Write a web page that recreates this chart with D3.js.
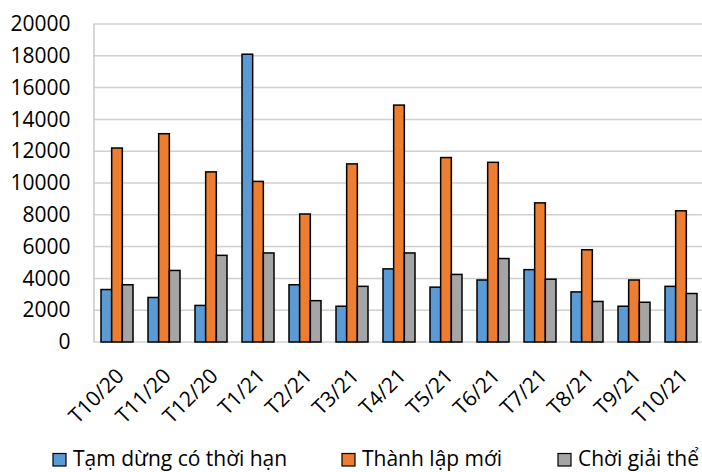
<!DOCTYPE html>
<html>
<head>
<meta charset="utf-8">
<script src="https://cdn.jsdelivr.net/npm/d3@7"></script>
<style>
  body { margin: 0; background: #fff; }
  text { font-family: "Open Sans", sans-serif; fill: #000; }
</style>
</head>
<body>
<script>
var months = ["T10/20", "T11/20", "T12/20", "T1/21", "T2/21", "T3/21", "T4/21",
              "T5/21", "T6/21", "T7/21", "T8/21", "T9/21", "T10/21"];
var tamDung = [3300, 2800, 2300, 18100, 3600, 2250, 4600, 3450, 3900, 4550, 3150, 2250, 3500];
var thanhLap = [12200, 13100, 10700, 10100, 8050, 11200, 14900, 11600, 11300, 8750, 5800, 3900, 8250];
var choGiaiThe = [3600, 4500, 5450, 5600, 2600, 3500, 5600, 4250, 5250, 3950, 2550, 2500, 3050];
var seriesNames = ["Tạm dừng có thời hạn", "Thành lập mới", "Chời giải thể"];
var colors = ["#5b9bd5", "#ed7d31", "#a5a5a5"];
var yTicks = [0, 2000, 4000, 6000, 8000, 10000, 12000, 14000, 16000, 18000, 20000];

var margin = {top: 24, left: 93.5},
    width = 611,
    height = 318;

var svg = d3.select("body").append("svg")
    .attr("width", 702)
    .attr("height", 472);

var main = svg.append("g")
    .attr("transform", "translate(" + margin.left + "," + margin.top + ")");

var x = d3.scaleBand()
    .domain(months)
    .range([0, width]);

var x1 = d3.scaleBand()
    .domain([0, 1, 2])
    .range([7.5, x.bandwidth() - 7.5]);

var y = d3.scaleLinear()
    .domain([0, 20000])
    .range([height, 0]);

// gridlines
main.selectAll(".grid")
    .data(yTicks)
    .enter().append("line")
    .attr("x1", 0)
    .attr("x2", width)
    .attr("y1", function(d) { return y(d); })
    .attr("y2", function(d) { return y(d); })
    .attr("stroke", "#d0d0d0")
    .attr("stroke-width", 1.5);

// left axis line
main.append("line")
    .attr("x1", 0.5).attr("x2", 0.5)
    .attr("y1", 0).attr("y2", height)
    .attr("stroke", "#c8c8c8")
    .attr("stroke-width", 1.5);

// y tick labels
var yAxis = d3.axisLeft(y)
    .tickValues(yTicks)
    .tickFormat(d3.format("d"))
    .tickSize(0)
    .tickPadding(23);

main.append("g")
    .call(yAxis)
    .call(function(g) { g.select(".domain").remove(); })
    .selectAll("text")
    .attr("font-family", "Open Sans, sans-serif")
    .attr("font-size", 21)
    .attr("fill", "#000");

// bars
var all = [tamDung, thanhLap, choGiaiThe];
var group = main.selectAll(".month")
    .data(months)
    .enter().append("g")
    .attr("transform", function(d) { return "translate(" + x(d) + ",0)"; });

group.selectAll("rect")
    .data(function(d, i) { return all.map(function(s, k) { return {k: k, v: s[i]}; }); })
    .enter().append("rect")
    .attr("x", function(d) { return x1(d.k); })
    .attr("y", function(d) { return y(d.v); })
    .attr("width", x1.bandwidth())
    .attr("height", function(d) { return height - y(d.v); })
    .attr("fill", function(d) { return colors[d.k]; })
    .attr("stroke", "#000")
    .attr("stroke-width", 1.5);

// x axis labels
var xAxis = d3.axisBottom(x).tickSize(0).tickPadding(0);
main.append("g")
    .attr("transform", "translate(0," + height + ")")
    .call(xAxis)
    .call(function(g) { g.select(".domain").remove(); })
    .selectAll("text")
    .attr("font-family", "Open Sans, sans-serif")
    .attr("font-size", 21)
    .attr("fill", "#000")
    .attr("text-anchor", "end")
    .attr("dy", "0.35em")
    .attr("transform", "translate(3,30) rotate(-45)");

// legend
var legendX = [53, 342, 558];
var legend = svg.selectAll(".legend")
    .data(seriesNames)
    .enter().append("g")
    .attr("transform", function(d, i) { return "translate(" + legendX[i] + ",453.5)"; });

legend.append("rect")
    .attr("width", 13)
    .attr("height", 12.5)
    .attr("fill", function(d, i) { return colors[i]; })
    .attr("stroke", "#000")
    .attr("stroke-width", 1.2);

legend.append("text")
    .attr("x", 20)
    .attr("y", 12.5)
    .attr("font-size", 21)
    .text(function(d) { return d; });
</script>
</body>
</html>
